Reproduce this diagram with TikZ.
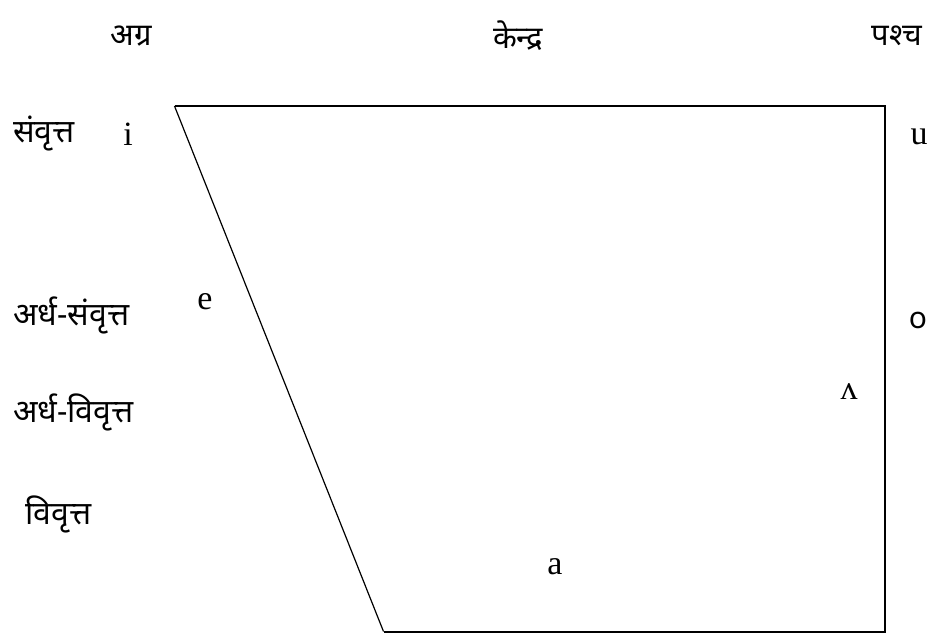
\documentclass[tikz,border=0pt]{standalone}
\usepackage{fontspec}
\setmainfont{Liberation Serif}
\newfontfamily\deva[Script=Devanagari]{Noto Sans}
\newfontfamily\sansfam{Noto Sans}
\begin{document}
\begin{tikzpicture}[x=1pt,y=-1pt,
  hdr/.style={font=\deva\fontsize{31}{34}\selectfont, inner sep=0pt},
  side/.style={font=\deva\fontsize{32}{36}\selectfont, inner sep=0pt, anchor=west},
  vow/.style={font=\fontsize{34}{38}\selectfont, inner sep=0pt},
  edge/.style={line width=2pt, line join=miter},
  slant/.style={line width=1.2pt}]
\useasboundingbox (0,0) rectangle (934,633);
% trapezoid
\coordinate (tl) at (174.5,106);
\coordinate (tr) at (884.5,106);
\coordinate (br) at (884.5,631.5);
\coordinate (bl) at (383.5,631.5);
\draw[edge] (tl) -- (tr) -- (br) -- (bl);
\draw[slant] (bl) -- (tl);
% headers
\node[hdr] (agra) at (131,36) {अग्र};
\node[hdr] (kendra) at (518,36) {केन्द्र};
\node[hdr] (pashch) at (897,36) {पश्च};
% side labels
\node[side] (samvrtt) at (13,134) {संवृत्त};
\node[side] (ardhasam) at (13,315) {अर्ध-संवृत्त};
\node[side] (ardhaviv) at (13,412) {अर्ध-विवृत्त};
\node[side] (vivrtt) at (25,514) {विवृत्त};
% vowels
\node[vow] (vi) at (128,134) {i};
\node[vow] (ve) at (205,302) {e};
\node[vow] (vu) at (919,137) {u};
\node[vow,font=\sansfam\fontsize{30}{34}\selectfont] (vo) at (918,320) {o};
\node[vow] (vwedge) at (849,392) {ʌ};
\node[vow] (va) at (555,567) {a};
\end{tikzpicture}
\end{document}
